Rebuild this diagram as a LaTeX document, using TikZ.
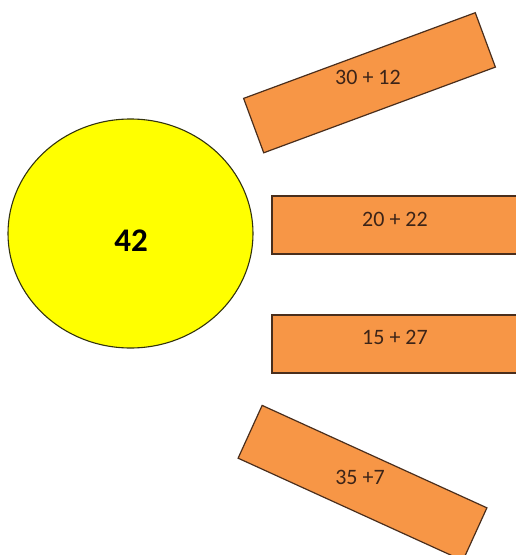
\documentclass[tikz,border=0pt]{standalone}
\usepackage{fontspec}
\setmainfont{Carlito}
\usetikzlibrary{shapes.geometric}
\definecolor{boxorange}{HTML}{F79646}
\definecolor{boxline}{HTML}{4A2E1C}
\definecolor{boxtext}{HTML}{3C2418}
\definecolor{sunyellow}{HTML}{FFFF00}
\definecolor{sunline}{HTML}{33330E}
\tikzset{
  bar/.style={draw=boxline, fill=boxorange, line width=1.2pt, rectangle,
    minimum width=247pt, minimum height=58pt, inner sep=0pt},
  bartext/.style={text=boxtext, font=\fontsize{22}{24}\selectfont, inner sep=0pt},
  sun/.style={draw=sunline, fill=sunyellow, line width=1.1pt, ellipse,
    minimum width=245pt, minimum height=229pt, inner sep=0pt},
  suntext/.style={text=black, font=\bfseries\fontsize{33}{35}\selectfont, inner sep=0pt}
}
\begin{document}
\begin{tikzpicture}[x=1pt,y=-1pt]
  \useasboundingbox (0,0) rectangle (516,555);
  \clip (0,0) rectangle (516,555);
  \fill[white] (0,0) rectangle (516,555);
  % sun
  \node[sun] (s) at (130.5,233.5) {};
  \node[suntext] (st) at (131,241) {42};
  % bars
  \node[bar, rotate=20.3] (b1) at (369.5,82.75) {};
  \node[bartext] (t1) at (368,77) {30 + 12};
  \node[bar, minimum width=260pt] (b2) at (402,225) {};
  \node[bartext] (t2) at (395,219.5) {20 + 22};
  \node[bar, minimum width=260pt] (b3) at (402,344) {};
  \node[bartext] (t3) at (395,337.5) {15 + 27};
  \node[bar, rotate=-24.5] (b4) at (362.5,483) {};
  \node[bartext] (t4) at (360,477) {35 +7};
\end{tikzpicture}
\end{document}
